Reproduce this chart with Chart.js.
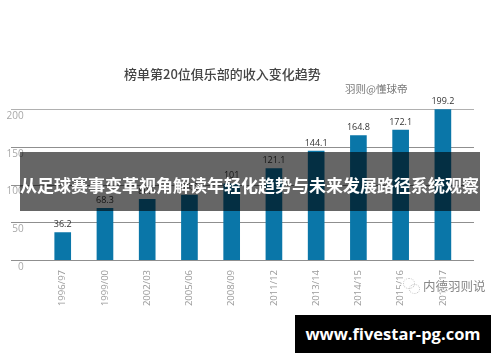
<!DOCTYPE html>
<html lang="zh">
<head>
  <meta charset="UTF-8">
  <title>榜单第20位俱乐部的收入变化趋势</title>
  <script src="https://cdn.jsdelivr.net/npm/chart.js"></script>
  <style>
    html, body { margin: 0; padding: 0; background: #fff; }
    #wrap { position: relative; width: 500px; height: 362px; overflow: hidden; font-family: "Noto Sans CJK SC", sans-serif; }
    #chart { position: absolute; left: 0; top: 0; }
    .abs { position: absolute; white-space: nowrap; line-height: 1; }
    #heading { left: 124px; top: 67px; font-size: 13px; font-weight: 500; color: #444; }
    #byline { left: 345px; top: 84px; font-size: 10.5px; color: #777; }
    #band { left: 20px; top: 152px; width: 460px; height: 59px; background: rgba(0,0,0,0.6); }
    #bandText { left: 20px; top: 176px; font-size: 17px; font-weight: 700; color: #fff; }
    #mark { left: 423px; top: 280px; font-size: 12.5px; color: #888; background: rgba(255,255,255,0.75); }
    #icon { left: 401px; top: 276px; width: 20px; height: 20px; background: #fff; border-radius: 50%; }
    .bubble { position: absolute; border: 1px dotted #c4c4c4; border-radius: 50%; }
    #site { left: 295px; top: 315px; width: 196px; height: 38px; background: #000; color: #fff;
            font: 700 16.5px "Open Sans", sans-serif; line-height: 37px; text-align: center; }
  </style>
</head>
<body>
  <div id="wrap">
    <canvas id="chart" width="500" height="362"></canvas>
    <div class="abs" id="heading">榜单第20位俱乐部的收入变化趋势</div>
    <div class="abs" id="byline">羽则@懂球帝</div>
    <div class="abs" id="icon">
      <div class="bubble" style="left:2px;top:2px;width:10px;height:9px"></div>
      <div class="bubble" style="left:8px;top:8px;width:9px;height:8px"></div>
    </div>
    <div class="abs" id="mark">内德羽则说</div>
    <div class="abs" id="band"></div>
    <div class="abs" id="bandText">从足球赛事变革视角解读年轻化趋势与未来发展路径系统观察</div>
    <div class="abs" id="site">www.fivestar-pg.com</div>
  </div>
  <script>
    const seasons = ["1996/97", "1999/00", "2002/03", "2005/06", "2008/09", "2011/12", "2013/14", "2014/15", "2015/16", "2016/17"];
    const revenue = [36.2, 68.3, 80.5, 86.0, 101, 121.1, 144.1, 164.8, 172.1, 199.2];
    const valueLabels = ["36.2", "68.3", "80.5", "86.0", "101", "121.1", "144.1", "164.8", "172.1", "199.2"];
    const yTicks = [0, 50, 100, 150, 200];

    // gridlines run past the plot area on both sides, so they are drawn here
    const longGrid = {
      id: "longGrid",
      beforeDatasetsDraw(chart) {
        const { ctx, scales: { y } } = chart;
        ctx.save();
        ctx.lineWidth = 1;
        yTicks.forEach(t => {
          const py = Math.round(y.getPixelForValue(t)) + 0.5;
          ctx.strokeStyle = t === 200 ? "#b0b0b0" : "#8f8f8f";
          ctx.beginPath();
          ctx.moveTo(11, py);
          ctx.lineTo(474, py);
          ctx.stroke();
        });
        ctx.restore();
      }
    };

    // value above each bar
    const barLabels = {
      id: "barLabels",
      afterDatasetsDraw(chart) {
        const { ctx } = chart;
        ctx.save();
        ctx.font = '9px "Open Sans", sans-serif';
        ctx.fillStyle = "#333";
        ctx.textAlign = "center";
        ctx.textBaseline = "middle";
        chart.getDatasetMeta(0).data.forEach((bar, i) => {
          ctx.fillText(valueLabels[i], bar.x, bar.y - 8);
        });
        ctx.restore();
      }
    };

    new Chart(document.getElementById("chart"), {
      type: "bar",
      data: {
        labels: seasons,
        datasets: [{
          data: revenue,
          backgroundColor: "#0a76a8",
          barThickness: 16
        }]
      },
      options: {
        responsive: false,
        animation: false,
        layout: { padding: { left: 0, right: 36, top: 109, bottom: 0 } },
        plugins: { legend: { display: false }, title: { display: false }, tooltip: { enabled: false } },
        scales: {
          x: {
            afterFit: axis => { axis.height = 102; },
            grid: { display: false },
            border: { display: false },
            ticks: {
              color: "#9a9a9a",
              font: { family: '"Open Sans", sans-serif', size: 9.5 },
              minRotation: 90,
              maxRotation: 90,
              autoSkip: false,
              padding: 2
            }
          },
          y: {
            min: 0,
            max: 200,
            afterBuildTicks: axis => { axis.ticks = yTicks.map(v => ({ value: v })); },
            afterFit: axis => { axis.width = 41.6; },
            grid: { display: false },
            border: { display: false },
            ticks: {
              color: "#a8a8a8",
              font: { family: '"Open Sans", sans-serif', size: 10 },
              labelOffset: 7,
              padding: 10
            }
          }
        }
      },
      plugins: [longGrid, barLabels]
    });
  </script>
</body>
</html>
